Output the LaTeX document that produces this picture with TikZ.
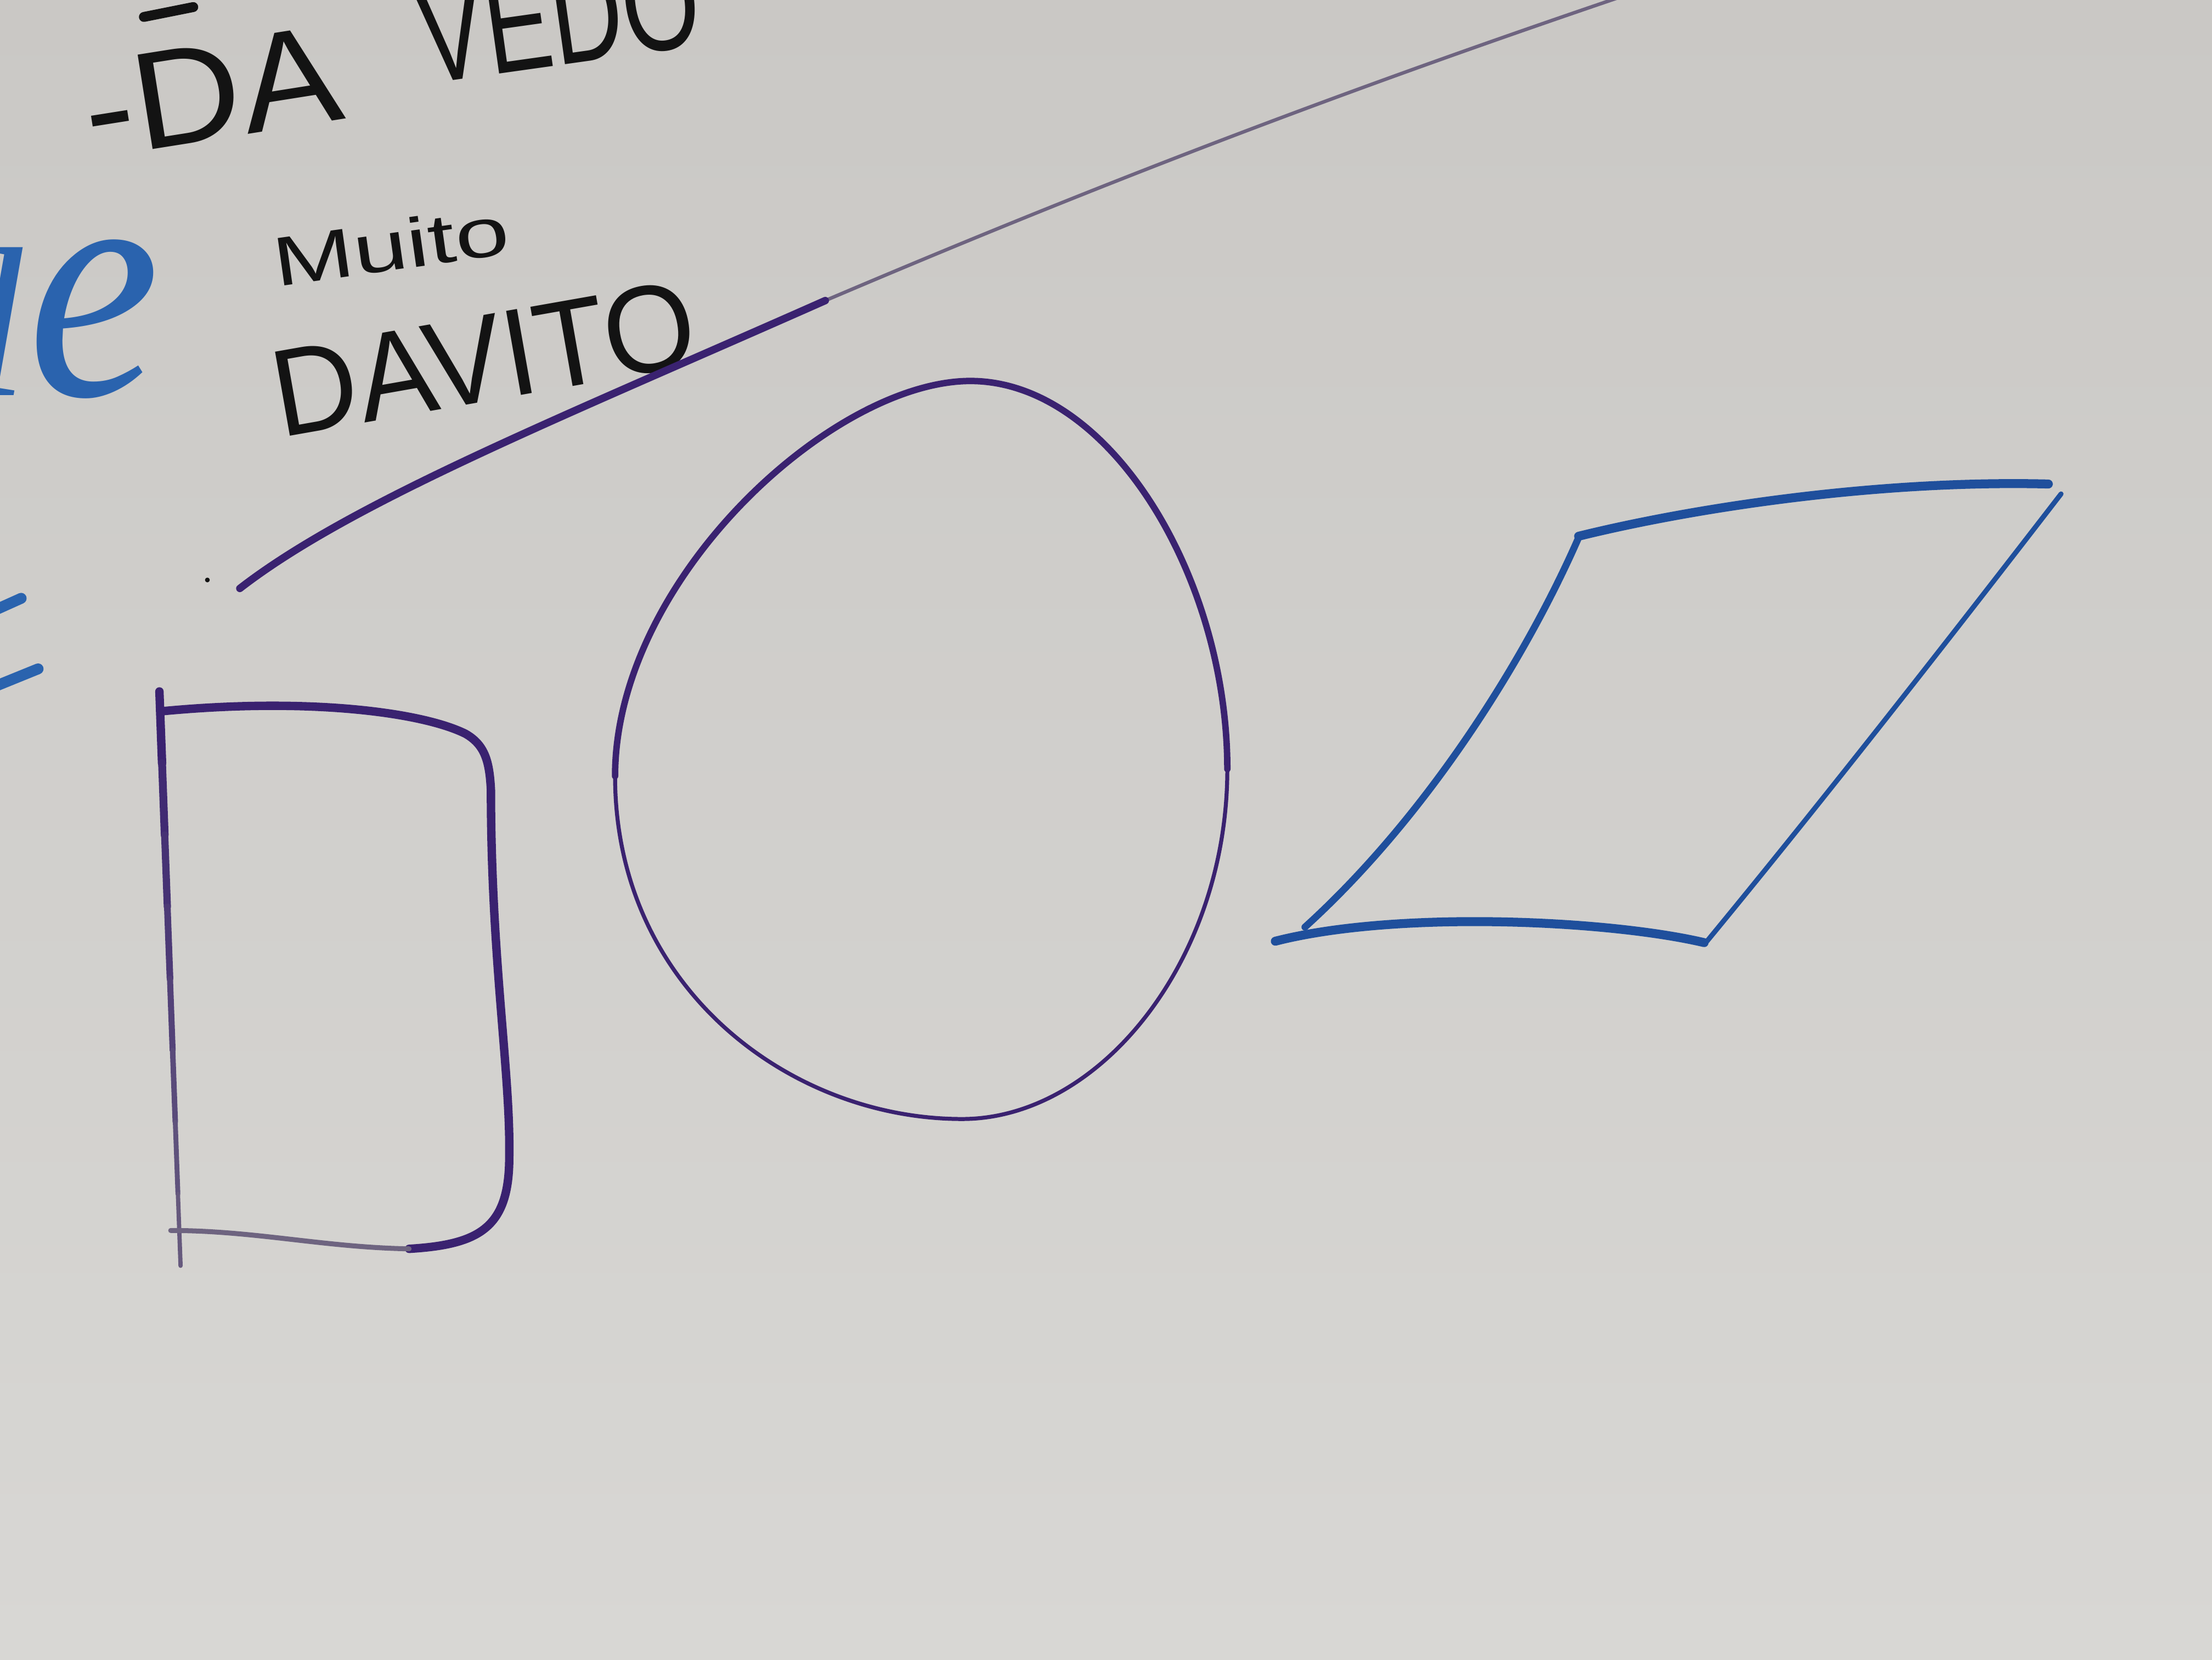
\documentclass[tikz,border=0pt]{standalone}
\usepackage{graphicx}
\usepackage{fontspec}
\setmainfont{Liberation Sans}
\newfontfamily\cursivehand{Liberation Serif}
\usetikzlibrary{calc}
\definecolor{boardlight}{HTML}{D8D7D4}
\definecolor{boarddark}{HTML}{CAC8C5}
\definecolor{markpurple}{HTML}{3A2270}
\definecolor{markfade}{HTML}{6E6480}
\definecolor{markblue}{HTML}{1F4F9C}
\definecolor{wordblue}{HTML}{2A63AE}
\definecolor{markblack}{HTML}{131313}
\tikzset{
  purplepen/.style={draw=markpurple, line width=1.1pt, line cap=round, line join=round},
  bluepen/.style={draw=markblue, line width=1.4pt, line cap=round, line join=round},
  inkpen/.style={draw=markblack, line width=2pt, line cap=round},
  handtext/.style={inner sep=0pt, text=markblack},
}

\begin{document}
\begin{tikzpicture}[x=0.1mm, y=-0.1mm]
  \useasboundingbox (0,0) rectangle (1568,1176);
  \clip (0,0) rectangle (1568,1176);
  \shade[top color=boarddark, bottom color=boardlight] (0,0) rectangle (1568,1176);

  \draw[inkpen] (102,12) -- (137,5);
  \node[handtext, font=\fontsize{28pt}{28pt}\selectfont, rotate=9, xscale=1.08] (da) at (150,65) {-DA};
  \node[handtext, font=\fontsize{28pt}{28pt}\selectfont, rotate=8, xscale=0.72] (vedo) at (396,12) {VEDO};
  \node[handtext, font=\fontsize{14pt}{14pt}\selectfont, rotate=8, xscale=1.4] (muito) at (277,174) {Muito};
  \node[handtext, font=\fontsize{25pt}{25pt}\selectfont, rotate=10, xscale=0.95] (davito) at (343,254) {DAVITO};
  \node[inner sep=0pt, anchor=base west, text=wordblue, font=\cursivehand\itshape\fontsize{43pt}{43pt}\selectfont] (blueword) at (-23,280) {l\scalebox{1.4}[1.55]{e}};
  \draw[bluepen, draw=wordblue, line width=2.2pt] (-5,433) -- (15,424);
  \draw[bluepen, draw=wordblue, line width=2.2pt] (-5,487) -- (27,474);

  \fill[markblack] (147,411) circle (0.17mm);
  \draw[purplepen, draw=markfade, line width=0.7pt] (585,213) .. controls (780,130) and (950,65) .. (1160,-6);
  \draw[purplepen, line width=1.5pt] (170,417) .. controls (250,355) and (400,295) .. (585,213);

  \foreach \i in {0,...,7} {
    \pgfmathsetmacro{\mixval}{100-\i*12}
    \draw[purplepen, draw=markpurple!\mixval!markfade, line width={1.7pt-\i*0.12pt}]
      ($(113,490)!\i/8!(128,897)$) -- ($(113,490)!\i/8+1/8!(128,897)$);
  }
  \draw[purplepen, line width=1.7pt] (115,504) .. controls (220,494) and (300,505) .. (330,520)
    .. controls (344,528) and (347,540) .. (348,560)
    .. controls (348,680) and (362,760) .. (361,820)
    .. controls (361,870) and (340,882) .. (290,885);
  \draw[purplepen, draw=markfade, line width=1pt] (290,885) .. controls (230,884) and (180,872) .. (121,872);

  \draw[purplepen, line width=1.3pt] (436,550) .. controls (436,410) and (592,268) .. (690,270)
    .. controls (788,272) and (870,410) .. (870,545);
  \draw[purplepen, line width=0.8pt] (870,545) .. controls (870,680) and (780,793) .. (682,793)
    .. controls (560,793) and (436,700) .. (436,550);

  \draw[bluepen, line width=1.8pt] (1119,380) .. controls (1200,360) and (1330,340) .. (1452,343);
  \draw[bluepen, line width=1pt] (1461,350) .. controls (1380,455) and (1290,570) .. (1210,667);
  \draw[bluepen, line width=1.8pt] (1208,668) .. controls (1140,652) and (990,645) .. (904,667);
  \draw[bluepen] (925,657) .. controls (1010,580) and (1080,470) .. (1119,381);
\end{tikzpicture}
\end{document}
